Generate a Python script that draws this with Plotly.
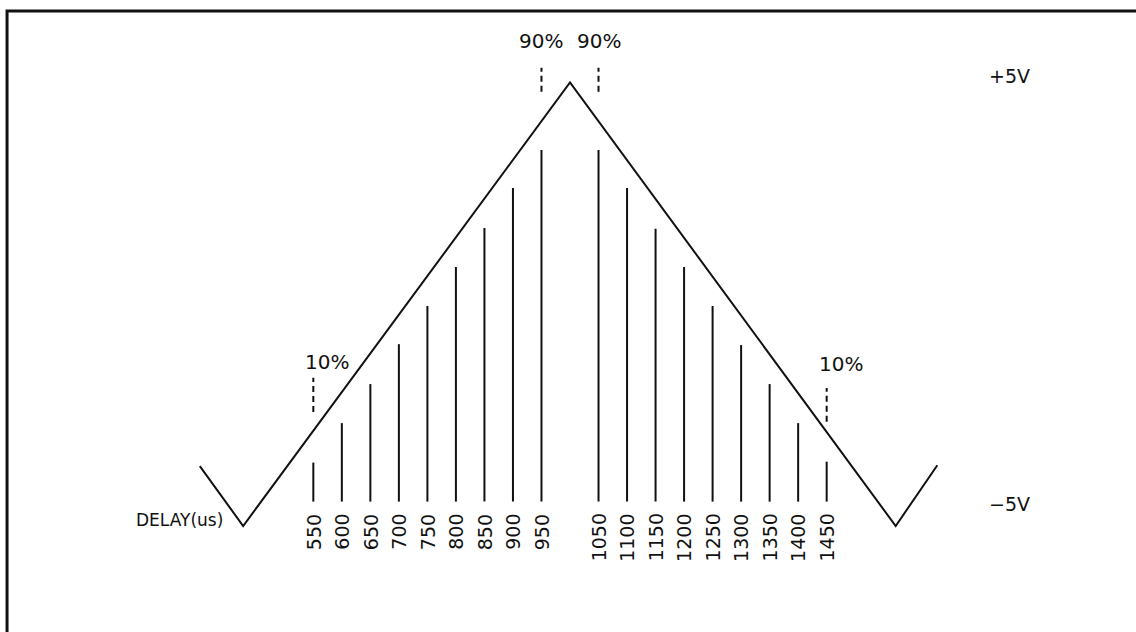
import plotly.graph_objects as go

# ---- data (time in microseconds, level in volts) ----
wave_t = [351, 427, 1000, 1571, 1644]
wave_v = [-3.65, -5.0, 5.0, -5.0, -3.63]

delays_left = [550, 600, 650, 700, 750, 800, 850, 900, 950]
tops_left = [-3.57, -2.68, -1.80, -0.90, -0.04, 0.84, 1.72, 2.62, 3.48]
delays_right = [1050, 1100, 1150, 1200, 1250, 1300, 1350, 1400, 1450]
tops_right = [3.48, 2.62, 1.70, 0.84, -0.04, -0.92, -1.80, -2.68, -3.55]
line_base = -4.45
label_top = -4.68

delay_labels_left = ["550", "600", "650", "700", "750", "800", "850", "900", "950"]
delay_labels_right = ["1050", "1100", "1150", "1200", "1250", "1300", "1350", "1400", "1450"]

pct_marks_t = [550, 950, 1050, 1450]
pct_marks_lo = [-2.43, 4.79, 4.79, -2.65]
pct_marks_hi = [-1.66, 5.33, 5.33, -1.89]
pct_texts = ["10%", "90%", "90%", "10%"]
pct_text_v = [-1.30, 5.94, 5.94, -1.35]

level_labels = ["+5V", "\u22125V"]
level_values = [5.0, -5.0]

FONT = "DejaVu Sans"
BLACK = "#111111"

fig = go.Figure()

# triangle waveform
fig.add_trace(go.Scatter(x=wave_t, y=wave_v, mode="lines",
                         line=dict(color=BLACK, width=2), hoverinfo="skip"))

# sample lines
xs, ys = [], []
for t, top in zip(delays_left + delays_right, tops_left + tops_right):
    xs += [t, t, None]
    ys += [line_base, top, None]
fig.add_trace(go.Scatter(x=xs, y=ys, mode="lines",
                         line=dict(color=BLACK, width=2), hoverinfo="skip"))

# dashed percentage markers
for t, lo, hi in zip(pct_marks_t, pct_marks_lo, pct_marks_hi):
    fig.add_trace(go.Scatter(x=[t, t], y=[lo, hi], mode="lines",
                             line=dict(color=BLACK, width=2, dash="6px,4px"),
                             hoverinfo="skip"))

ann = []
for t, lab in zip(delays_left + delays_right, delay_labels_left + delay_labels_right):
    ann.append(dict(x=t, y=label_top, text=lab, showarrow=False, textangle=-90,
                    xanchor="center", yanchor="top",
                    font=dict(family=FONT, size=19, color=BLACK)))

for t, txt, v in zip(pct_marks_t, pct_texts, pct_text_v):
    if txt == "10%":
        ann.append(dict(x=t, y=v, text=txt, showarrow=False, xanchor="left",
                        xshift=-10, yanchor="middle",
                        font=dict(family=FONT, size=20, color=BLACK)))
    else:
        ann.append(dict(x=t, y=v, text=txt, showarrow=False, xanchor="center",
                        yanchor="middle",
                        font=dict(family=FONT, size=20, color=BLACK)))

for lab, v, ys_ in zip(level_labels, level_values, [6, 22]):
    ann.append(dict(x=1771, y=v, text=lab, showarrow=False, xanchor="center",
                    yanchor="middle", yshift=ys_,
                    font=dict(family=FONT, size=19, color=BLACK)))

ann.append(dict(x=delays_left[0], y=-5.0, text="DELAY(us)", showarrow=False,
                xanchor="right", yanchor="middle", xshift=-88, yshift=6,
                font=dict(family=FONT, size=17, color=BLACK)))

fig.update_layout(
    width=1136, height=632,
    margin=dict(l=0, r=0, t=0, b=0),
    paper_bgcolor="white", plot_bgcolor="white",
    showlegend=False,
    xaxis=dict(range=[0.7, 1992.3], visible=False, fixedrange=True),
    yaxis=dict(range=[-7.39, 6.86], visible=False, fixedrange=True),
    annotations=ann,
    shapes=[dict(type="path", xref="paper", yref="paper",
                 path="M 0.0062,0 L 0.0062,0.9826 L 1,0.9826",
                 line=dict(color=BLACK, width=3))],
)

fig.write_html("out.html", config={"displayModeBar": False, "staticPlot": True},
               post_script="document.body.style.margin='0';document.body.style.overflow='hidden';")
